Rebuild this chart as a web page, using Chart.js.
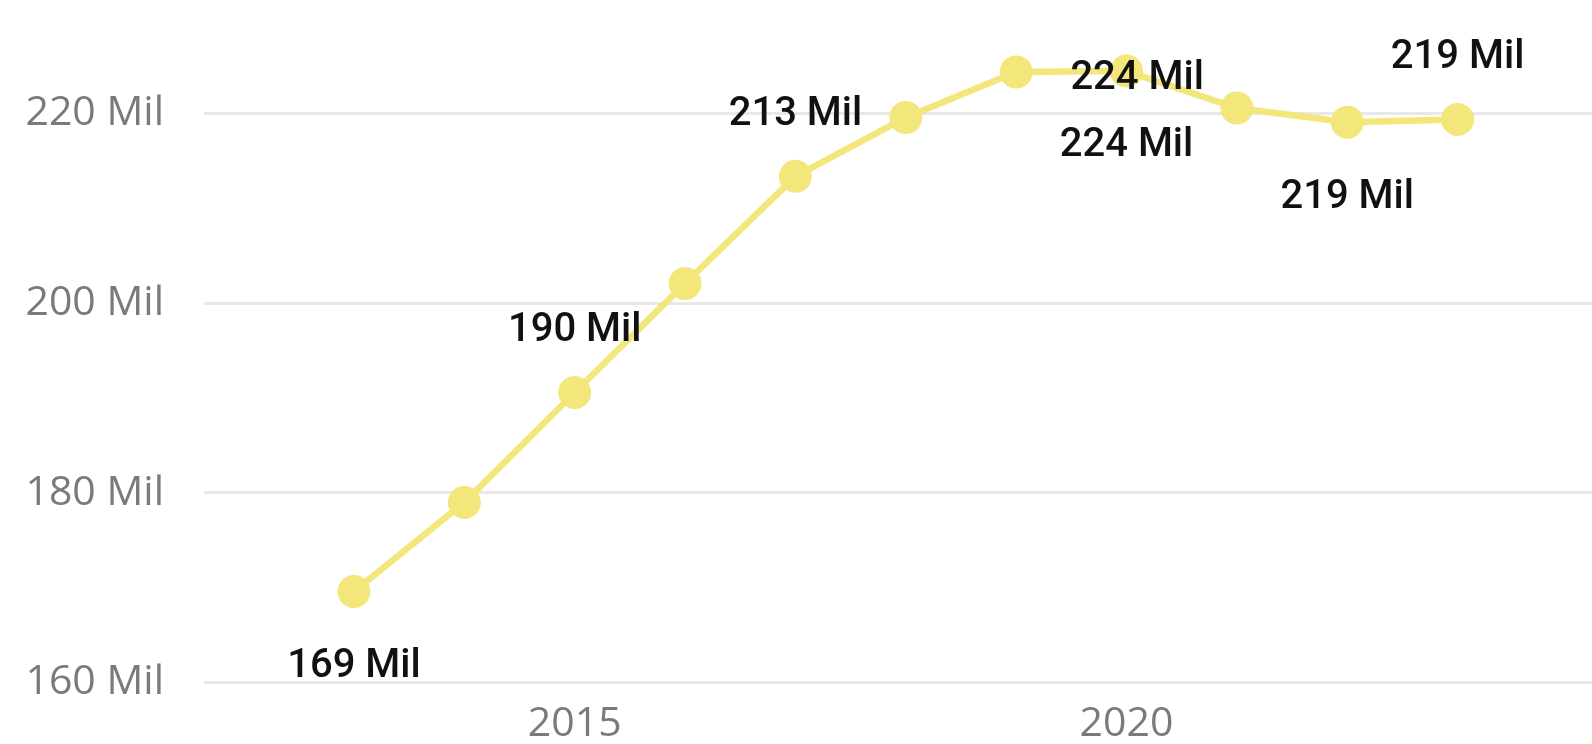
<!DOCTYPE html>
<html>
<head>
<meta charset="utf-8">
<script src="https://cdn.jsdelivr.net/npm/chart.js@4/dist/chart.umd.min.js"></script>
<style>
  html, body { margin: 0; padding: 0; background: #ffffff; }
  #wrap { width: 1592px; height: 744px; position: relative; }
</style>
</head>
<body>
<div id="wrap"><canvas id="c"></canvas></div>
<script>
// ---- data ----
const years = [2013, 2014, 2015, 2016, 2017, 2018, 2019, 2020, 2021, 2022, 2023];
const valuesMil = [169.6, 179.0, 190.6, 202.1, 213.4, 219.6, 224.4, 224.5, 220.6, 219.1, 219.4];
const xTickValues = [2015, 2020];
const xTickLabels = ['2015', '2020'];
const yTickValues = [160, 180, 200, 220];
const yTickLabels = ['160 Mil', '180 Mil', '200 Mil', '220 Mil'];
const labelIndices = [0, 2, 4, 6, 7, 9, 10];
const unitSuffix = ' Mil';

// ---- label placement (styling, kept apart from data) ----
const labelPlacement = {
  0: { dx: 0, dy: 71 },
  2: { dx: 0, dy: -66 },
  4: { dx: 0, dy: -66 },
  6: { dx: 121, dy: 3 },
  7: { dx: 0, dy: 71 },
  9: { dx: 0, dy: 71 },
  10: { dx: 0, dy: -66 }
};

const LABEL_FONT_SIZE = 40;

const pointLabelsPlugin = {
  id: 'pointLabels',
  afterDatasetsDraw(chart) {
    const ctx = chart.ctx;
    const meta = chart.getDatasetMeta(0);
    ctx.save();
    ctx.font = '500 ' + LABEL_FONT_SIZE + 'px Roboto, "Liberation Sans", sans-serif';
    ctx.fillStyle = '#111111';
    ctx.textAlign = 'center';
    ctx.textBaseline = 'alphabetic';
    labelIndices.forEach(i => {
      const el = meta.data[i];
      const p = labelPlacement[i] || { dx: 0, dy: -66 };
      const txt = Math.floor(valuesMil[i]) + unitSuffix;
      const cy = el.y + p.dy;
      ctx.fillText(txt, el.x + p.dx, cy + 0.711 * LABEL_FONT_SIZE / 2);
    });
    ctx.restore();
  }
};

const points = years.map((y, i) => ({ x: y, y: valuesMil[i] }));

new Chart(document.getElementById('c'), {
  type: 'line',
  data: {
    datasets: [{
      data: points,
      borderColor: '#F3E67A',
      backgroundColor: '#F3E67A',
      borderWidth: 6.5,
      pointRadius: 16.5,
      pointHoverRadius: 16.5,
      pointBorderWidth: 0,
      pointBackgroundColor: '#F3E67A',
      tension: 0,
      clip: false
    }]
  },
  options: {
    responsive: true,
    maintainAspectRatio: false,
    animation: false,
    events: [],
    layout: { padding: 0, autoPadding: false },
    plugins: {
      legend: { display: false },
      tooltip: { enabled: false }
    },
    scales: {
      x: {
        type: 'linear',
        min: 2011.641,
        max: 2024.218,
        grid: { display: false, drawTicks: false },
        border: { display: false },
        afterBuildTicks(scale) {
          scale.ticks = xTickValues.map(v => ({ value: v }));
        },
        afterFit(scale) {
          scale.height = 61.5;
          scale.paddingLeft = 0; scale.paddingRight = 0;
          scale.paddingTop = 0; scale.paddingBottom = 0;
        },
        ticks: {
          padding: 21,
          color: '#7a7a7a',
          font: { family: '"Open Sans", "Noto Sans", sans-serif', size: 41, lineHeight: 1 },
          maxRotation: 0,
          autoSkip: false,
          callback(value) {
            const k = xTickValues.indexOf(value);
            return k >= 0 ? xTickLabels[k] : '';
          }
        }
      },
      y: {
        type: 'linear',
        min: 160,
        max: 232,
        grid: { color: '#e8e8e8', lineWidth: 3, drawTicks: false },
        border: { display: false },
        afterBuildTicks(scale) {
          scale.ticks = yTickValues.map(v => ({ value: v }));
        },
        afterFit(scale) {
          scale.width = 204;
          scale.paddingTop = 0; scale.paddingBottom = 0;
          scale.paddingLeft = 0; scale.paddingRight = 0;
        },
        ticks: {
          padding: 40,
          color: '#7a7a7a',
          font: { family: '"Open Sans", "Noto Sans", sans-serif', size: 41, lineHeight: 1 },
          callback(value) {
            const k = yTickValues.indexOf(value);
            return k >= 0 ? yTickLabels[k] : '';
          }
        }
      }
    }
  },
  plugins: [pointLabelsPlugin]
});
</script>
</body>
</html>
